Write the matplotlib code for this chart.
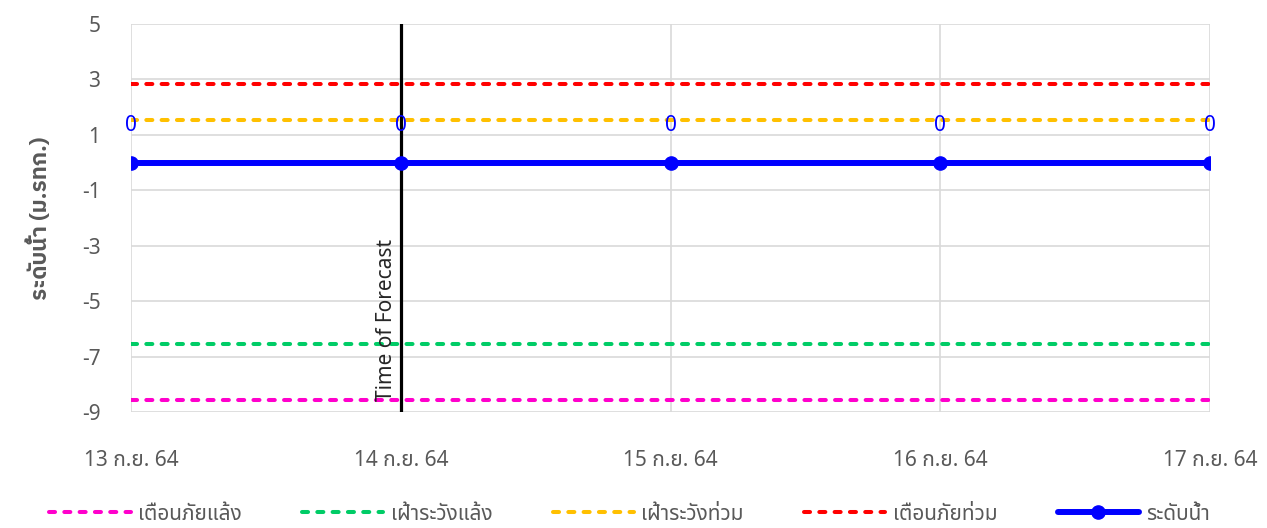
import matplotlib
matplotlib.use("Agg")
import matplotlib.pyplot as plt

plt.rcParams['font.family'] = ['Noto Sans Thai', 'DejaVu Sans']

dates = ["13 ก.ย. 64", "14 ก.ย. 64", "15 ก.ย. 64", "16 ก.ย. 64", "17 ก.ย. 64"]
warn_dry = [-8.55, -8.55, -8.55, -8.55, -8.55]      # เตือนภัยแล้ง
watch_dry = [-6.55, -6.55, -6.55, -6.55, -6.55]     # เฝ้าระวังแล้ง
watch_flood = [1.53, 1.53, 1.53, 1.53, 1.53]        # เฝ้าระวังท่วม
warn_flood = [2.85, 2.85, 2.85, 2.85, 2.85]         # เตือนภัยท่วม
water_level = [0, 0, 0, 0, 0]                       # ระดับน้ำ
forecast_idx = 1
yticks = [5, 3, 1, -1, -3, -5, -7, -9]

gray = '#595959'
fig = plt.figure(figsize=(12.67, 5.28), dpi=100)
ax = fig.add_axes([131/1267, 1-412/528, (1210-131)/1267, (412-24)/528])
x = list(range(len(dates)))

dash = (0, (1.5, 2.3))
dkw = dict(lw=2.9, ls=dash, dash_capstyle='round', zorder=3)
ax.plot(x, warn_dry, color='#FF00CC', label='เตือนภัยแล้ง', **dkw)
ax.plot(x, watch_dry, color='#00CC66', label='เฝ้าระวังแล้ง', **dkw)
ax.plot(x, watch_flood, color='#FFC000', label='เฝ้าระวังท่วม', **dkw)
ax.plot(x, warn_flood, color='#FF0000', label='เตือนภัยท่วม', **dkw)
ax.plot(x, water_level, color='#0000FF', lw=4.3, marker='o', ms=9.5, label='ระดับน้ำ',
        solid_capstyle='round', zorder=5)
for xi, v in zip(x, water_level):
    ax.annotate(f"{v:g}", (xi, v), xytext=(0, 27), textcoords='offset points',
                ha='center', va='center', color='#0000FF', fontsize=15, zorder=6)

ax.axvline(forecast_idx, color='black', lw=2.3, zorder=4)
ax.annotate('Time of Forecast', (forecast_idx, -8.6), xytext=(-3, 0), textcoords='offset points',
            rotation=90, ha='right', va='bottom', fontsize=15, color='#262626', fontweight='light')

ax.set_xlim(0, len(dates)-1)
ax.set_ylim(-9, 5)
ax.set_yticks(yticks)
ax.set_xticks(x)
ax.set_xticklabels(dates)
ax.grid(True, color='#d9d9d9', lw=1.2, zorder=0)
for s in ax.spines.values():
    s.set_visible(False)
ax.tick_params(length=0, labelsize=15, colors=gray)
ax.tick_params(axis='y', pad=22)
ax.tick_params(axis='x', pad=27)
ax.set_ylabel('ระดับน้ำ (ม.รทก.)', fontsize=16, color=gray, fontweight='bold',
              family=['IBM Plex Sans Thai', 'Noto Sans Thai', 'DejaVu Sans'])
ax.yaxis.set_label_coords(-0.074, 0.5)

leg = fig.legend(loc='center', bbox_to_anchor=(0.497, 0.026), ncol=5, frameon=False,
                 fontsize=15, handlelength=3.9, columnspacing=2.9, handletextpad=0.35)
for t in leg.get_texts():
    t.set_color(gray)

fig.savefig("out.png")
